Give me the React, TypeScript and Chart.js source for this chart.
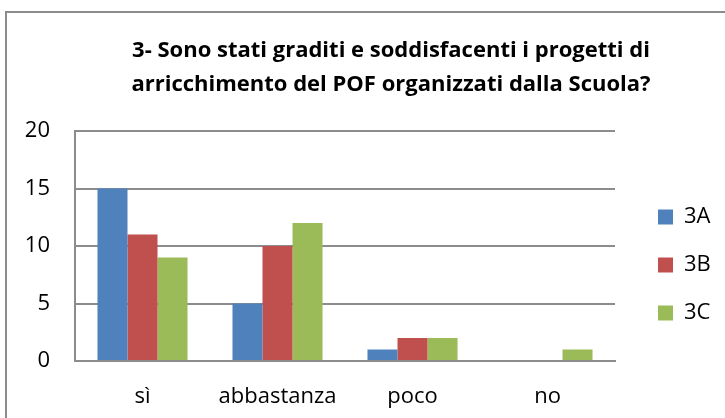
import React, { useEffect, useRef } from "react";
import { Chart, registerables } from "chart.js";

Chart.register(...registerables);

const categories = ["sì", "abbastanza", "poco", "no"];
const seriesNames = ["3A", "3B", "3C"];
const values3A = [15, 5, 1, 0];
const values3B = [11, 10, 2, 0];
const values3C = [9, 12, 2, 1];
const seriesColors = ["#4F81BD", "#C0504D", "#9BBB59"];
const yMin = 0;
const yMax = 20;
const yStep = 5;
const titleLines = [
  "3- Sono stati graditi e soddisfacenti i progetti di",
  "arricchimento del POF organizzati dalla Scuola?",
];

const VIEW_W = 725;
const CANVAS_W = 782;
const H = 418;
const GRAY = "#8c8c8c";
const AXIS_FONT = "'Open Sans', 'Noto Sans', sans-serif";
const TITLE_FONT = "'Open Sans', 'Noto Sans', sans-serif";
const LEGEND_PAD = 26;
const PLOT_RIGHT = 615;

const frame = {
  id: "frame",
  beforeDraw(chart: any) {
    const ctx = chart.ctx;
    ctx.save();
    ctx.fillStyle = "#ffffff";
    ctx.fillRect(0, 0, chart.width, chart.height);
    ctx.strokeStyle = GRAY;
    ctx.lineWidth = 2;
    ctx.strokeRect(6, 12, chart.width + 100, chart.height + 100);
    ctx.restore();
  },
};

const legendPlace = {
  id: "legendPlace",
  afterLayout(chart: any) {
    const lg = chart.legend;
    if (!lg) return;
    const area = chart.chartArea;
    const w = lg.width;
    lg.left = area.right + 43 - LEGEND_PAD;
    lg.right = lg.left + w;
    lg.top = area.top - 19;
    lg.bottom = area.bottom + 57;
    lg.height = lg.bottom - lg.top;
  },
};

export default function App() {
  const ref = useRef<HTMLCanvasElement | null>(null);

  useEffect(() => {
    if (!ref.current) return;
    const data = [values3A, values3B, values3C];
    const chart = new Chart(ref.current, {
      type: "bar",
      data: {
        labels: categories,
        datasets: seriesNames.map((n, i) => ({
          label: n,
          data: data[i],
          backgroundColor: seriesColors[i],
          borderWidth: 0,
          barPercentage: 1,
          categoryPercentage: 0.667,
          yAxisID: "y",
        })),
      },
      options: {
        responsive: false,
        animation: false,
        devicePixelRatio: 1,
        layout: { padding: 0 },
        plugins: {
          tooltip: { enabled: false },
          title: {
            display: true,
            text: titleLines,
            color: "#000",
            font: { family: TITLE_FONT, size: 22, weight: "bold", lineHeight: 34 / 22 },
            padding: { top: 34, bottom: 29 },
          },
          legend: {
            display: true,
            position: "right",
            labels: {
              color: "#000",
              boxWidth: 15,
              boxHeight: 15,
              padding: LEGEND_PAD,
              font: { family: AXIS_FONT, size: 22 },
            },
          },
        },
        scales: {
          x: {
            grid: { display: false, drawTicks: false },
            border: { display: true, color: GRAY, width: 2 },
            ticks: { color: "#000", padding: 23, font: { family: AXIS_FONT, size: 22 } },
            afterFit: (s: any) => {
              s.height = 57;
            },
          },
          y: {
            min: yMin,
            max: yMax,
            ticks: { stepSize: yStep, color: "#000", padding: 25, font: { family: AXIS_FONT, size: 22 } },
            grid: { color: GRAY, lineWidth: 2, drawTicks: false },
            border: { display: true, color: GRAY, width: 2 },
            afterFit: (s: any) => {
              s.width = 75;
            },
          },
          gap: {
            type: "linear",
            position: "right",
            display: true,
            grid: { display: false, drawTicks: false },
            border: { display: false },
            ticks: { display: false },
            afterFit: (s: any) => {
              const lw = s.chart.legend ? s.chart.legend.width : 0;
              s.width = Math.max(0, CANVAS_W - PLOT_RIGHT - lw);
            },
          },
        },
      },
      plugins: [frame, legendPlace],
    } as any);
    return () => chart.destroy();
  }, []);

  return (
    <div style={{ position: "fixed", left: 0, top: 0, width: VIEW_W, height: H, overflow: "hidden" }}>
      <canvas ref={ref} width={CANVAS_W} height={H} style={{ width: CANVAS_W, height: H, display: "block" }} />
    </div>
  );
}
